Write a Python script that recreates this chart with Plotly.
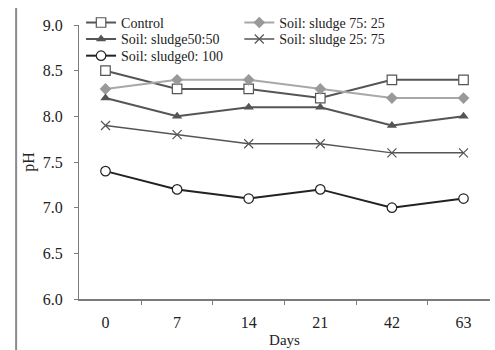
import plotly.graph_objects as go

# Sampling days and pH readings for each soil:sludge mixture
days = ["0", "7", "14", "21", "42", "63"]
control = [8.5, 8.3, 8.3, 8.2, 8.4, 8.4]
mix_75_25 = [8.3, 8.4, 8.4, 8.3, 8.2, 8.2]
mix_50_50 = [8.2, 8.0, 8.1, 8.1, 7.9, 8.0]
mix_25_75 = [7.9, 7.8, 7.7, 7.7, 7.6, 7.6]
mix_0_100 = [7.4, 7.2, 7.1, 7.2, 7.0, 7.1]

series_names = ["Control", "Soil: sludge 75: 25", "Soil: sludge50:50",
                "Soil: sludge 25: 75", "Soil: sludge0: 100"]

FONT = "Liberation Serif, Times New Roman, serif"


def serif(label):
    # force the serif face on legend entries
    return f"<span style='font-family:\"Liberation Serif\", serif'>{label}</span>"


fig = go.Figure()

fig.add_trace(go.Scatter(
    x=days, y=control, name=serif(series_names[0]), mode="lines+markers",
    legend="legend",
    line=dict(color="#555555", width=2),
    marker=dict(symbol="square", size=9.5, color="white",
                line=dict(color="#555555", width=1.2))))
fig.add_trace(go.Scatter(
    x=days, y=mix_75_25, name=serif(series_names[1]), mode="lines+markers",
    legend="legend2",
    line=dict(color="#a8a8a8", width=2),
    marker=dict(symbol="diamond", size=9, color="#999999")))
fig.add_trace(go.Scatter(
    x=days, y=mix_50_50, name=serif(series_names[2]), mode="lines+markers",
    legend="legend3",
    line=dict(color="#555555", width=2),
    marker=dict(symbol="triangle-up", size=9, color="#555555")))
fig.add_trace(go.Scatter(
    x=days, y=mix_25_75, name=serif(series_names[3]), mode="lines+markers",
    legend="legend4",
    line=dict(color="#555555", width=1.5),
    marker=dict(symbol="x-thin", size=9,
                line=dict(color="#555555", width=1.2))))
fig.add_trace(go.Scatter(
    x=days, y=mix_0_100, name=serif(series_names[4]), mode="lines+markers",
    legend="legend5",
    line=dict(color="#222222", width=2),
    marker=dict(symbol="circle", size=9.5, color="white",
                line=dict(color="#222222", width=1.2))))

# Thin frame line on the far left of the figure
fig.add_shape(type="line", xref="paper", yref="paper",
              x0=-0.153, x1=-0.153, y0=1.062, y1=-0.2,
              line=dict(color="#8a8a8a", width=2))

legend_common = dict(
    orientation="v", xref="paper", yref="paper",
    xanchor="left", yanchor="top",
    font=dict(family=FONT, size=14, color="#222222"),
    bgcolor="rgba(0,0,0,0)", itemwidth=30,
)

fig.update_layout(
    width=495, height=350,
    margin=dict(l=79, r=5, t=25, b=51),
    paper_bgcolor="white", plot_bgcolor="white",
    font=dict(family=FONT, color="#222222", size=16),
    showlegend=True,
    legend=dict(x=0.005, y=1.066, **legend_common),
    legend2=dict(x=0.39, y=1.066, **legend_common),
    legend3=dict(x=0.005, y=1.006, **legend_common),
    legend4=dict(x=0.39, y=1.006, **legend_common),
    legend5=dict(x=0.005, y=0.945, **legend_common),
    xaxis=dict(
        type="category", categoryorder="array", categoryarray=days,
        showline=True, linecolor="#7a7a7a", linewidth=2,
        ticks="outside", tickson="boundaries", ticklen=4,
        tickcolor="#7a7a7a", showgrid=False, zeroline=False,
        tickfont=dict(family=FONT, size=16), ticklabelstandoff=8,
        title=dict(text="Days", font=dict(family=FONT, size=15), standoff=4),
    ),
    yaxis=dict(
        range=[6, 9], dtick=0.5, tickformat=".1f",
        showline=True, linecolor="#7a7a7a", linewidth=1,
        ticks="outside", ticklen=4, tickcolor="#7a7a7a",
        showgrid=False, zeroline=False,
        tickfont=dict(family=FONT, size=16), ticklabelstandoff=8,
        title=dict(text="pH", font=dict(family=FONT, size=16), standoff=4),
    ),
)

fig.write_html("out.html")
